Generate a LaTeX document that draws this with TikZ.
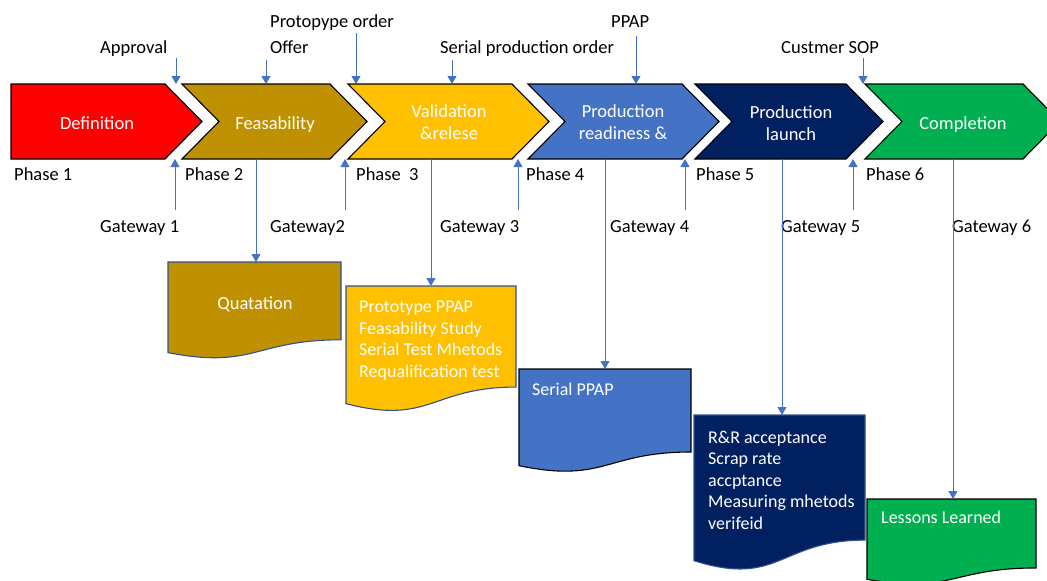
\documentclass[tikz,border=0pt]{standalone}
\usepackage{fontspec}
\setmainfont{Carlito}
\usetikzlibrary{arrows.meta}
\definecolor{cRed}{HTML}{FF0000}
\definecolor{cGold}{HTML}{BF9000}
\definecolor{cAmber}{HTML}{FFC000}
\definecolor{cBlue}{HTML}{4472C4}
\definecolor{cNavy}{HTML}{002060}
\definecolor{cGreen}{HTML}{00B050}
\definecolor{cEdge}{HTML}{2F528F}
\definecolor{cArrow}{HTML}{4472C4}
\tikzset{
  chev/.style={draw=black, line width=1.1pt, line join=miter},
  docshape/.style={line width=1.1pt},
  intext/.style={text=white, font=\fontsize{18.5}{22}\selectfont, align=center, inner sep=0pt},
  doctext/.style={text=white, font=\fontsize{18}{21.5}\selectfont, align=left, inner sep=0pt, anchor=base west},
  lbl/.style={text=black, font=\fontsize{18.5}{22}\selectfont, inner sep=0pt, anchor=base west},
  arr/.style={draw=cArrow, line width=0.9pt, -{Triangle[width=9pt,length=8pt]}},
}
\newcommand{\chevronA}[3]{% xl, xr, color  (first: flat left)
  \fill[#3] (#1,84) -- (#2,84) -- (#2+37,121.5) -- (#2,159) -- (#1,159) -- cycle;
  \draw[chev] (#1,84) -- (#2,84) -- (#2+37,121.5) -- (#2,159) -- (#1,159) -- cycle;}
\newcommand{\chevronB}[3]{% xl, xr, color
  \fill[#3] (#1,84) -- (#2,84) -- (#2+37,121.5) -- (#2,159) -- (#1,159) -- (#1+37,121.5) -- cycle;
  \draw[chev] (#1,84) -- (#2,84) -- (#2+37,121.5) -- (#2,159) -- (#1,159) -- (#1+37,121.5) -- cycle;}
\newcommand{\docshp}[6]{% x0, y0, w, h, fill, edge
  \filldraw[docshape, fill=#5, draw=#6] (#1,#2) -- (#1+#3,#2) -- (#1+#3,#2+0.802*#4)
    .. controls (#1+0.5*#3,#2+0.802*#4) and (#1+0.5*#3,#2+1.107*#4) .. (#1,#2+0.934*#4) -- cycle;}
\begin{document}
\begin{tikzpicture}[x=1pt,y=-1pt]
\useasboundingbox (0,0) rectangle (1047,581);
\clip (0,0) rectangle (1047,581);
\fill[white] (0,0) rectangle (1047,581);

% chevrons
\chevronA{11}{165}{cRed}
\chevronB{182}{330}{cGold}
\chevronB{348}{512}{cAmber}
\chevronB{528}{682}{cBlue}
\chevronB{695}{846}{cNavy}
\chevronB{865}{1023}{cGreen}

\node[intext, anchor=base] (t1) at (97,129) {Definition};
\node[intext, anchor=base] (t2) at (275,129) {Feasability};
\node[intext, anchor=base] (t3a) at (449,117) {Validation};
\node[intext, anchor=base] (t3b) at (449,139) {\&relese};
\node[intext, anchor=base] (t4a) at (623,117) {Production};
\node[intext, anchor=base] (t4b) at (623,139) {readiness \&};
\node[intext, anchor=base] (t5a) at (791,118) {Production};
\node[intext, anchor=base] (t5b) at (791,140) {launch};
\node[intext, anchor=base] (t6) at (963,129) {Completion};

% top labels
\node[lbl] (approval) at (100,53) {Approval};
\node[lbl] (offer) at (270,53) {Offer};
\node[lbl] (proto) at (270,27) {Protopype order};
\node[lbl] (serial) at (440,53) {Serial production order};
\node[lbl] (ppap) at (611,27) {PPAP};
\node[lbl] (sop) at (781,53) {Custmer SOP};

\coordinate (a1s) at (176,58);  \coordinate (a1e) at (176,84);
\coordinate (a2s) at (266,60);  \coordinate (a2e) at (266,84);
\coordinate (a3s) at (356,33);  \coordinate (a3e) at (356,84);
\coordinate (a4s) at (452,60);  \coordinate (a4e) at (452,84);
\coordinate (a5s) at (636,36);  \coordinate (a5e) at (636,84);
\coordinate (a6s) at (863,58);  \coordinate (a6e) at (863,84);
\foreach \i in {1,...,6} \draw[arr] (a\i s) -- (a\i e);

% phase labels
\node[lbl] (p1) at (14,180) {Phase 1};
\node[lbl] (p2) at (185,180) {Phase 2};
\node[lbl] (p3) at (356,180) {Phase\ \ 3};
\node[lbl] (p4) at (526,180) {Phase 4};
\node[lbl] (p5) at (696,180) {Phase 5};
\node[lbl] (p6) at (866,180) {Phase 6};

% gateway labels
\node[lbl] (g1) at (100,232) {Gateway 1};
\node[lbl] (g2) at (270,232) {Gateway2};
\node[lbl] (g3) at (440,232) {Gateway 3};
\node[lbl] (g4) at (610,232) {Gateway 4};
\node[lbl] (g5) at (781,232) {Gateway 5};
\node[lbl] (g6) at (952,232) {Gateway 6};

\coordinate (u1s) at (175,210); \coordinate (u1e) at (175,159);
\coordinate (u2s) at (345,210); \coordinate (u2e) at (345,159);
\coordinate (u3s) at (518,210); \coordinate (u3e) at (518,159);
\coordinate (u4s) at (685,210); \coordinate (u4e) at (685,159);
\coordinate (u5s) at (853,210); \coordinate (u5e) at (853,159);
\foreach \i in {1,...,5} \draw[arr] (u\i s) -- (u\i e);

% documents
\docshp{168}{262}{173}{97}{cGold}{cEdge}
\docshp{346}{286}{170}{126}{cAmber}{cEdge}
\docshp{519}{369}{172}{103.5}{cBlue}{black}
\docshp{694}{415}{171}{156}{cNavy}{cEdge}
\docshp{867}{499}{169}{86}{cGreen}{black}

\node[intext, anchor=base] (d1t) at (255,309) {Quatation};
% base anchor of a multi-line node is the baseline of its last line
\node[doctext] (d2t) at (359,377) {Prototype PPAP\\Feasability Study\\Serial Test Mhetods\\Requalification test};
\node[doctext] (d3t) at (532,395) {Serial PPAP};
\node[doctext] (d4t) at (708,529) {R\&R acceptance\\Scrap rate\\accptance\\Measuring mhetods\\verifeid};
\node[doctext] (d5t) at (881,523) {Lessons Learned};

% down connectors
\coordinate (c2) at (256,159); \coordinate (d1) at (256,262);
\coordinate (c3) at (431,159); \coordinate (d2) at (431,286);
\coordinate (c4) at (605,159); \coordinate (d3) at (605,369);
\coordinate (c5) at (782,159); \coordinate (d4) at (782,415);
\coordinate (c6) at (953,159); \coordinate (d5) at (953,499);
\draw[arr] (c2) -- (d1);
\draw[arr] (c3) -- (d2);
\draw[arr] (c4) -- (d3);
\draw[arr] (c5) -- (d4);
\draw[arr] (c6) -- (d5);
\end{tikzpicture}
\end{document}
